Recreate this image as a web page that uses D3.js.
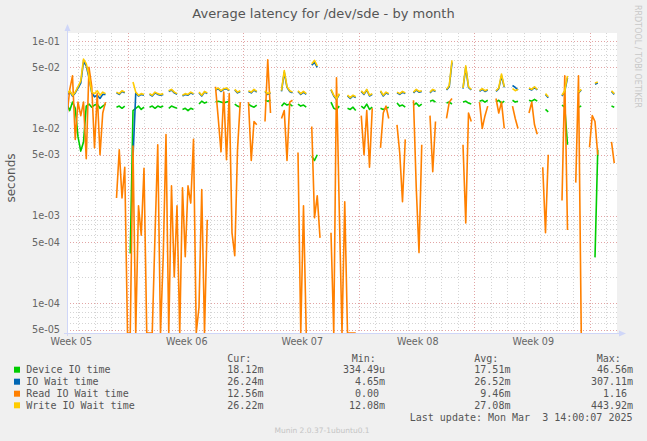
<!DOCTYPE html>
<html><head><meta charset="utf-8">
<script src="https://cdn.jsdelivr.net/npm/d3@7/dist/d3.min.js"></script>
<style>
html,body{margin:0;padding:0;background:#f0f0f0;}
svg{display:block;}
text{font-family:"DejaVu Sans",sans-serif;}
.mono{font-family:"DejaVu Sans Mono",monospace;white-space:pre;}
</style></head><body>
<svg id="chart" width="647" height="441"></svg>
<script>
const title = "Average latency for /dev/sde - by month";
const yLabel = "seconds";
const yTickValues = [1e-1,5e-2,1e-2,5e-3,1e-3,5e-4,1e-4,5e-5];
const yTickLabels = ["1e-01","5e-02","1e-02","5e-03","1e-03","5e-04","1e-04","5e-05"];
const weekLabels = ["Week 05","Week 06","Week 07","Week 08","Week 09"];
const weekLabelHours = [5.5,173.5,341.5,509.5,677.5];
const weekStartHours = [88.5,256.5,424.5,592.5,760.5];
const stepHours = 4;
const seriesNames = ["Device IO time","IO Wait time","Read IO Wait time","Write IO Wait time"];
const seriesColors = ["#00cc00","#0066b3","#ff8000","#ffcc00"];
const curValues = ["18.12m","26.24m","12.56m","26.22m"];
const minValues = ["334.49u","  4.65m","  0.00 "," 12.08m"];
const avgValues = ["17.51m","26.52m"," 9.46m","27.08m"];
const maxValues = [" 46.56m","307.11m","  1.16 ","443.92m"];
const lastUpdate = "Last update: Mon Mar  3 14:00:07 2025";
const footer = "Munin 2.0.37-1ubuntu0.1";
const watermark = "RRDTOOL / TOBI OETIKER";

// values in milliseconds, one every 4 hours; null = no data
const deviceIO = [
19,16,20,17,8,5.5,7,18,19,17.5,
18.5,19,17,18,19,null,null,null,17.5,18,
17,18,null,0.37,16,17,18,16.5,17.5,null,
17.5,18,17,18,17.5,18,null,17,18,17.5,
17,null,16.5,17,16,17,16.5,null,19,20.5,
19.5,20,null,null,20,20.5,20,19.5,20,20.5,
null,19,18,17.5,null,null,19,18,17.5,18.5,
null,null,21,20.5,21,null,null,null,18,19.5,
18.5,19,18,null,19,18,18.5,17.5,null,4.8,
4.3,5.0,null,null,null,null,20,17,16.5,18,
null,null,17,16.5,17.5,16,null,18,17,19,
16.5,17.5,null,null,17,16.5,17,17.5,null,null,
19.5,18,18.5,17.5,null,null,18.5,19.5,18,19,
null,null,20.5,21,20,null,null,null,19.5,20,
19,null,null,null,20,20.5,19.5,19,null,null,
20.5,21,20,21,null,null,20,21,19.5,20.5,
null,null,21,20,20.5,null,null,null,21,20.5,
21.5,20.5,null,null,16.5,15.5,null,null,null,null,
18.5,17.5,6.5,null,null,null,17.5,18,null,null,
null,null,0.335,5.7,null,null,null,null,18,17.5,
null];
const ioWait = [
24,26.5,23.5,25.5,29,33,58,52,38,25.5,
23,24,22,24.5,24.5,null,null,null,25.5,24.5,
26.5,25.5,null,null,4.7,25.5,23.5,24.5,24,null,
24.5,23.5,25.5,24.5,24,24.5,null,26.5,27.5,25.5,
24.5,null,23.5,24.5,24,25.5,24.5,null,25.5,23.5,
26,25,null,null,27.5,28.5,26.5,28,28.5,27,
null,27.5,25.5,26.5,null,null,26.5,25.5,27.5,26,
null,null,26.5,24.5,25.5,null,null,null,26.5,44,
29.5,26.5,25.5,null,26.5,24.5,26,24.5,null,53,
57,50,null,null,null,null,27.5,23.5,21.5,24.5,
null,null,23.5,22,23.5,22.5,null,26.5,24.5,27.5,
23.5,24.5,null,null,26.5,23.5,25.5,24.5,null,null,
25.5,24.5,26,25,null,null,25.5,27.5,26,26.5,
null,null,25.5,27.5,26.5,null,null,null,27.5,30,
57,null,null,null,28.5,50,29.5,27.5,null,null,
26.5,28,26.5,27.5,null,null,26.5,28.5,40,29.5,
null,null,31,29.5,27.5,null,null,null,28.5,27.5,
29.5,27.5,null,null,24.5,22.5,null,null,null,null,
23.5,26.5,38,null,null,null,25.5,27.5,null,null,
null,null,32,33,null,null,null,null,26.5,24.5,
null];
const readIO = [
14,28,40,7.5,20,14,20,4.5,50,30,
6,25,5,15,20,null,null,null,1.6,5.7,
1.6,3.6,0,0,6.3,0,1.3,0.6,3.5,0,
0,0,0.6,6.5,0,0.35,8.5,0,2.2,0.2,
1.3,0,2.1,0.34,2.2,1.4,7.5,0,0.09,2.0,
0,0.9,null,null,30,13,5.4,26,4.4,25,
0.64,0.35,5.7,20,null,null,20,4.3,12,11,
null,null,12,61,15,null,null,null,13,16,
4.3,20,21,null,5.3,0,1.3,0,null,10.5,
0.95,1.7,0.56,null,null,null,0.64,0,38,1.2,
0,1.45,0,0,0,0,null,14,5,16,
3.6,17,null,null,6,15,18,13,null,null,
11,5.2,1.45,7.5,null,null,21,2.1,0.38,6.5,
null,null,14,3.2,12,null,null,null,13,20,
22,null,null,null,6.5,0.83,15,12,null,null,
20,10,14,18,null,null,22,15,20,10,
null,null,18,13,10,null,null,null,15,20,
11,8.6,null,3.6,0.64,5,null,null,null,null,
1.5,40,0.69,null,null,2.4,40,0,null,null,
6.1,14,12,5,null,null,null,null,7,4,
null];
const writeIO = [
25,27,24,26,30,35,62,55,40,26,
25,27,24,26,25,null,null,null,26,25,
27,26,null,null,34,26,24,25,24.5,null,
25,24,26,25,24.5,25,null,27,28,26,
25,null,24,25,24.5,26,25,null,26,24,
26.5,25.5,null,null,28,29,27,28.5,29,27.5,
null,28,26,27,null,null,27,26,28,26.5,
null,null,27,25,26,null,null,null,27,46,
30,27,26,null,27,25,26.5,25,null,55,
60,52,null,null,null,null,28,24,22,25,
null,null,24,22.5,24,23,null,27,25,28,
24,25,null,null,27,24,26,25,null,null,
26,25,26.5,25.5,null,null,26,28,26.5,27,
null,null,26,28,27,null,null,null,28,31,
60,null,null,null,29,52,30,28,null,null,
27,28.5,27,28,null,null,27,29,42,30,
null,null,28.5,27,28,null,null,null,29,28,
30,28,null,null,25,23,null,null,null,null,
24,27,40,null,null,null,26,28,null,null,
null,null,33,34,null,null,null,null,27,25,
null];

const W = 647, H = 441;
const plot = {left:67, right:617, top:33, bottom:333};
const yMin = 4.57e-5, yMax = 0.1235;
const x = d3.scaleLinear().domain([0, 800]).range([plot.left, plot.right]);
const y = d3.scaleLog().domain([yMin, yMax]).range([plot.bottom, plot.top]);

const svg = d3.select("#chart");
svg.append("rect").attr("width", W).attr("height", H).attr("fill", "#f0f0f0");
svg.append("rect").attr("x", plot.left).attr("y", plot.top)
  .attr("width", plot.right - plot.left).attr("height", plot.bottom - plot.top).attr("fill", "#ffffff");

// grid
const grid = svg.append("g").attr("shape-rendering", "crispEdges");
const minorY = [];
for (let e = -5; e <= -1; e++) for (let m = 2; m <= 9; m++) {
  if (m === 5) continue;
  const v = m * Math.pow(10, e);
  if (v > yMin && v < yMax) minorY.push(v);
}
const minorX = [];
for (let h = weekStartHours[0] - 72; h < 800; h += 24) {
  if (!weekStartHours.some(w => Math.abs(w - h) < 0.01)) minorX.push(h);
}
grid.selectAll("line.mny").data(minorY).join("line")
  .attr("x1", plot.left).attr("x2", plot.right)
  .attr("y1", d => Math.round(y(d)) + 0.5).attr("y2", d => Math.round(y(d)) + 0.5)
  .attr("stroke", "#d4d4d4").attr("stroke-dasharray", "1,2");
grid.selectAll("line.mnx").data(minorX).join("line")
  .attr("x1", d => Math.round(x(d)) + 0.5).attr("x2", d => Math.round(x(d)) + 0.5)
  .attr("y1", plot.top).attr("y2", plot.bottom)
  .attr("stroke", "#d4d4d4").attr("stroke-dasharray", "1,2");
grid.selectAll("line.mjy").data(yTickValues).join("line")
  .attr("x1", plot.left).attr("x2", plot.right)
  .attr("y1", d => Math.round(y(d)) + 0.5).attr("y2", d => Math.round(y(d)) + 0.5)
  .attr("stroke", "#e2a4a4").attr("stroke-dasharray", "1,2");
grid.selectAll("line.mjx").data(weekStartHours).join("line")
  .attr("x1", d => Math.round(x(d)) + 0.5).attr("x2", d => Math.round(x(d)) + 0.5)
  .attr("y1", plot.top).attr("y2", plot.bottom)
  .attr("stroke", "#e2a4a4").attr("stroke-dasharray", "1,2");

// series
svg.append("clipPath").attr("id", "clip").append("rect")
  .attr("x", plot.left).attr("y", plot.top)
  .attr("width", plot.right - plot.left).attr("height", plot.bottom - plot.top);
const allSeries = [deviceIO, ioWait, readIO, writeIO];
const line = d3.line()
  .defined(d => d.v !== null)
  .x(d => x(d.h))
  .y(d => y(Math.max(d.v / 1000, yMin)));
const lines = svg.append("g").attr("clip-path", "url(#clip)");
allSeries.forEach((arr, k) => {
  const pts = arr.map((v, i) => ({h: i * stepHours, v: v}));
  lines.append("path").datum(pts)
    .attr("fill", "none").attr("stroke", seriesColors[k])
    .attr("stroke-width", 1.6).attr("stroke-linejoin", "round")
    .attr("d", line);
});

// axes
const axisColor = "#cfd6f8";
const yAxis = d3.axisLeft(y).tickValues(yTickValues)
  .tickFormat((d, i) => yTickLabels[i]).tickSize(0).tickPadding(7);
const gy = svg.append("g").attr("transform", `translate(${plot.left},0)`).call(yAxis);
gy.select(".domain").remove();
gy.selectAll("text").attr("fill", "#666").style("font-size", "9.7px").style("font-family", "DejaVu Sans");

const xAxis = d3.axisBottom(x).tickValues(weekLabelHours)
  .tickFormat((d, i) => weekLabels[i]).tickSize(0);
const gx = svg.append("g").attr("transform", `translate(0,${plot.bottom})`).call(xAxis);
gx.select(".domain").remove();
gx.selectAll("text").attr("y", 9).attr("dy", "0.35em").attr("fill", "#666")
  .style("font-size", "9.6px").style("font-family", "DejaVu Sans");

svg.append("line").attr("x1", plot.left + 0.5).attr("x2", plot.left + 0.5)
  .attr("y1", plot.bottom + 3).attr("y2", 29).attr("stroke", axisColor);
svg.append("line").attr("x1", plot.left - 3).attr("x2", 620)
  .attr("y1", plot.bottom + 0.5).attr("y2", plot.bottom + 0.5).attr("stroke", axisColor);
svg.append("path").attr("d", `M${plot.left - 2.5},31 L${plot.left + 3.5},31 L${plot.left + 0.5},24 Z`).attr("fill", axisColor);
svg.append("path").attr("d", `M619,${plot.bottom - 2.5} L619,${plot.bottom + 3.5} L626,${plot.bottom + 0.5} Z`).attr("fill", axisColor);

// title & labels
svg.append("text").attr("x", 323.5).attr("y", 13).attr("dy", "0.35em")
  .attr("text-anchor", "middle").attr("fill", "#555").style("font-size", "13px").text(title);
svg.append("text").attr("transform", "translate(11,178) rotate(-90)")
  .attr("text-anchor", "middle").attr("dy", "0.35em").attr("fill", "#555")
  .style("font-size", "12px").text(yLabel);
svg.append("text").attr("transform", "translate(638,5) rotate(90)")
  .attr("text-anchor", "start").attr("dy", "0.35em").attr("fill", "#c8c8c8")
  .style("font-size", "8px").text(watermark);

// legend
const rowY = [369.7, 381.7, 393.7, 405.3];
const leg = svg.append("g");
const monoText = (xx, yy, s, anchor) => leg.append("text").attr("class", "mono")
  .attr("x", xx).attr("y", yy).attr("dy", "0.35em").attr("text-anchor", anchor || "start")
  .attr("fill", "#555").style("font-size", "10px").text(s);
monoText(227.3, 358.3, "Cur:");
monoText(351.7, 358.3, "Min:");
monoText(474.3, 358.3, "Avg:");
monoText(596.7, 358.3, "Max:");
seriesNames.forEach((name, k) => {
  leg.append("rect").attr("x", 14).attr("y", rowY[k] - 3).attr("width", 6).attr("height", 6)
    .attr("fill", seriesColors[k]);
  monoText(26.3, rowY[k], name);
  monoText(227.3, rowY[k], curValues[k]);
  monoText(343, rowY[k], minValues[k]);
  monoText(474.3, rowY[k], avgValues[k]);
  monoText(591, rowY[k], maxValues[k]);
});
monoText(632.5, 417, lastUpdate, "end");
svg.append("text").attr("x", 322).attr("y", 430).attr("dy", "0.35em").attr("text-anchor", "middle")
  .attr("fill", "#c4c4c4").style("font-size", "7.5px").text(footer);
</script>
</body></html>
